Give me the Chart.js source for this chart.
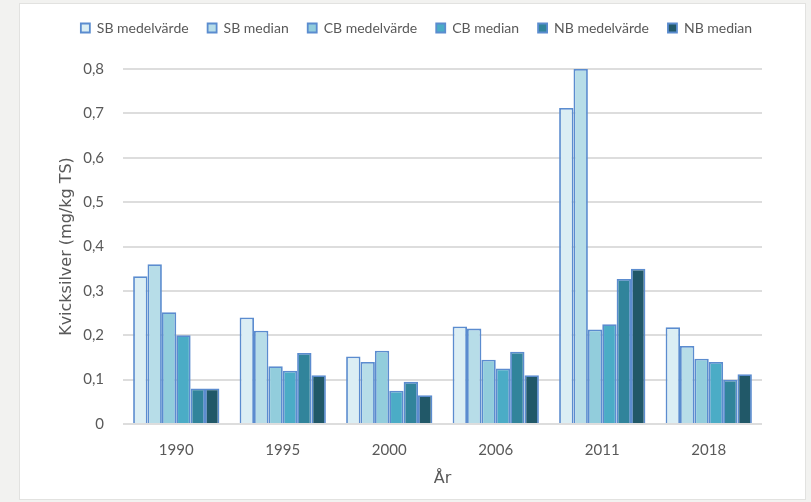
<!DOCTYPE html>
<html>
<head>
<meta charset="utf-8">
<script src="https://cdn.jsdelivr.net/npm/chart.js@4.4.1/dist/chart.umd.min.js"></script>
<style>
  html, body { margin: 0; padding: 0; background: #f2f2f0; }
  body { width: 811px; height: 502px; position: relative; overflow: hidden; }
  #panel { position: absolute; left: 19px; top: 3px; width: 787px; height: 497px;
           background: #ffffff; border: 1px solid #e2e2e0; box-sizing: border-box; }
  #wrap { position: absolute; left: 0; top: 0; width: 811px; height: 502px; }
</style>
</head>
<body>
<div id="panel"></div>
<div id="wrap"><canvas id="c" width="811" height="502"></canvas></div>
<script>
// Mercury levels per sampling year (mg/kg dry weight)
const years = ['1990', '1995', '2000', '2006', '2011', '2018'];
const sbMean   = [0.333, 0.240, 0.152, 0.220, 0.712, 0.218];
const sbMedian = [0.360, 0.210, 0.140, 0.215, 0.800, 0.176];
const cbMean   = [0.252, 0.130, 0.165, 0.145, 0.213, 0.147];
const cbMedian = [0.200, 0.120, 0.075, 0.125, 0.225, 0.140];
const nbMean   = [0.080, 0.160, 0.095, 0.163, 0.327, 0.100];
const nbMedian = [0.080, 0.110, 0.065, 0.110, 0.350, 0.112];
const seriesNames = ['SB medelvärde', 'SB median', 'CB medelvärde', 'CB median', 'NB medelvärde', 'NB median'];
const yTicks = [0, 0.1, 0.2, 0.3, 0.4, 0.5, 0.6, 0.7, 0.8];

const fills = ['#dbeef4', '#b7dde8', '#92cddc', '#4bacc6', '#31849b', '#215868'];
const edge = '#5b8ccf';
const textColor = '#595959';
const values = [sbMean, sbMedian, cbMean, cbMedian, nbMean, nbMedian];

const datasets = values.map((v, i) => ({
  label: seriesNames[i],
  data: v,
  backgroundColor: fills[i],
  borderColor: edge,
  borderWidth: 1.8,
  categoryPercentage: 0.81,
  barPercentage: 1.0
}));

// Keep the legend on one row, leave room under it and shift it slightly right
const legendTweak = {
  id: 'legendTweak',
  beforeInit(chart) {
    const lg = chart.legend;
    const fit = lg.fit;
    lg.fit = function () {
      this.maxWidth = 811;
      fit.call(this);
      this.height += 24;
    };
    const draw = lg.draw;
    lg.draw = function () {
      const r = this.right;
      this.right = r + 14;
      draw.call(this);
      this.right = r;
    };
  }
};

new Chart(document.getElementById('c'), {
  type: 'bar',
  data: { labels: years, datasets: datasets },
  plugins: [legendTweak],
  options: {
    responsive: false,
    animation: false,
    devicePixelRatio: 1,
    layout: { padding: { top: 2, left: 57, right: 49, bottom: 14 } },
    plugins: {
      tooltip: { enabled: false },
      legend: {
        position: 'top',
        labels: {
          boxWidth: 9, boxHeight: 9,
          padding: 19,
          color: textColor,
          font: { family: 'Lato', size: 14 }
        }
      }
    },
    scales: {
      x: {
        afterFit: s => { s.height = 64; },
        grid: { display: false, drawTicks: false },
        border: { display: false },
        ticks: { color: textColor, padding: 17, font: { family: 'Lato', size: 15 } },
        title: { display: true, text: 'År', color: textColor, padding: 0,
                 font: { family: 'DejaVu Sans', size: 16 } }
      },
      y: {
        min: 0, max: 0.8,
        afterFit: s => { s.width = 66; },
        afterBuildTicks: s => { s.ticks = yTicks.map(v => ({ value: v })); },
        grid: { color: '#dddddd', lineWidth: 2, drawTicks: false },
        border: { display: false },
        ticks: {
          color: textColor, padding: 19, font: { family: 'Lato', size: 15 },
          callback: v => v === 0 ? '0' : v.toFixed(1).replace('.', ',')
        },
        title: { display: true, text: 'Kvicksilver (mg/kg TS)', color: textColor, padding: 0,
                 font: { family: 'DejaVu Sans', size: 16 } }
      }
    }
  }
});
</script>
</body>
</html>
